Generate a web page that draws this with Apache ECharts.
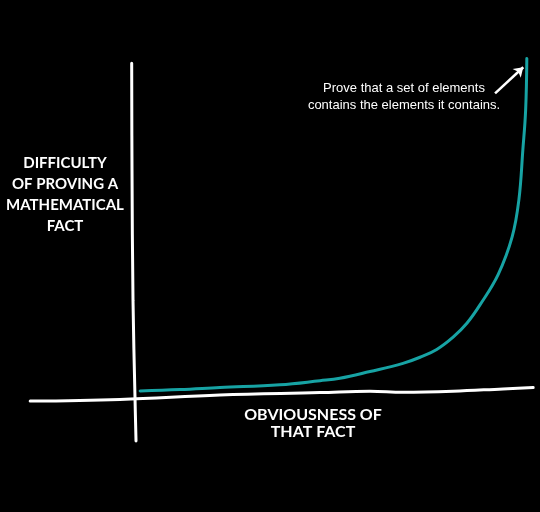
<!DOCTYPE html>
<html>
<head>
<meta charset="utf-8">
<script src="https://cdn.jsdelivr.net/npm/echarts@6/dist/echarts.min.js"></script>
<style>html,body{margin:0;padding:0;background:#000;}#c{width:540px;height:512px;}</style>
</head>
<body>
<div id="c"></div>
<script>
// Curve: obviousness (x) vs difficulty (y), 0..100 scales
const curveX = [1.8, 11.8, 21.9, 37.0, 47.1, 52.1, 59.7, 68.0, 72.3, 76.5, 80.7, 84.1, 87.4, 92.0, 95.5, 97.2, 98.2, 98.9, 99.2];
const curveY = [1.2, 1.6, 2.2, 3.0, 4.2, 4.9, 6.9, 9.3, 11.1, 13.4, 17.1, 21.1, 26.5, 35.5, 46.5, 57.4, 72.1, 83.8, 99.0];
// hand-drawn axis lines
const xAxisLineX = [-25.9, -3.3, 21.9, 47.1, 59.7, 68.0, 80.6, 93.2, 100.8];
const xAxisLineY = [-1.8, -1.3, 0.0, 0.7, 1.1, 0.8, 1.1, 1.8, 2.2];
const yAxisLineX = [-0.33, -0.25, 0.0, 0.5, 0.76];
const yAxisLineY = [97.6, 66.2, 27.9, -0.6, -13.5];
// annotation arrow (from, to)
const arrowFrom = [91.2, 88.7];
const arrowTo = [98.3, 96.4];
const annotation = 'Prove that a set of elements\ncontains the elements it contains.';
const xLabel = 'OBVIOUSNESS OF\nTHAT FACT';
const yLabel = 'DIFFICULTY\nOF PROVING A\nMATHEMATICAL\nFACT';

const zip = (a, b) => a.map((v, i) => [v, b[i]]);
const chart = echarts.init(document.getElementById('c'), null, {renderer: 'canvas'});
chart.setOption({
  backgroundColor: '#000',
  animation: false,
  grid: {left: 21.84, right: 6.03, top: 55, bottom: 66},
  xAxis: {type: 'value', min: -28, max: 101, show: false},
  yAxis: {type: 'value', min: -15, max: 100, show: false},
  series: [
    {type: 'line', data: zip(xAxisLineX, xAxisLineY), symbol: 'none', smooth: 0.4, clip: false,
     lineStyle: {color: '#fff', width: 3, cap: 'round'}},
    {type: 'line', data: zip(yAxisLineX, yAxisLineY), symbol: 'none', smooth: 0.4, clip: false,
     lineStyle: {color: '#fff', width: 3, cap: 'round'}},
    {type: 'line', data: zip(curveX, curveY), symbol: 'none', smooth: 0.4, clip: false,
     lineStyle: {color: '#17a3a4', width: 3, cap: 'round', join: 'round'}},
    {type: 'lines', coordinateSystem: 'cartesian2d', clip: false,
     symbol: ['none', 'arrow'], symbolSize: 9,
     lineStyle: {color: '#fff', width: 2.5, opacity: 1, curveness: 0},
     data: [{coords: [arrowFrom, arrowTo]}]}
  ],
  graphic: [
    {type: 'text', x: 404, y: 80,
     style: {text: annotation, fill: '#fff', font: '13px "Liberation Sans", Arial, sans-serif',
             textAlign: 'center', lineHeight: 17}},
    {type: 'text', x: 65, y: 153,
     style: {text: yLabel, fill: '#fff', font: 'bold 15px Lato, sans-serif',
             textAlign: 'center', lineHeight: 21}},
    {type: 'text', x: 313, y: 406,
     style: {text: xLabel, fill: '#fff', font: 'bold 16px Lato, sans-serif',
             textAlign: 'center', lineHeight: 17}}
  ]
});
</script>
</body>
</html>
